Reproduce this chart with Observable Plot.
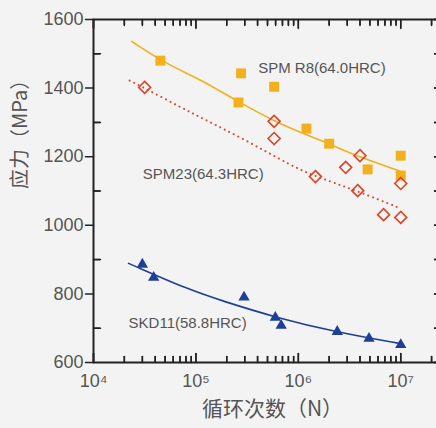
<!DOCTYPE html>
<html><head><meta charset="utf-8">
<script src="https://cdn.jsdelivr.net/npm/d3@7"></script>
<script src="https://cdn.jsdelivr.net/npm/@observablehq/plot@0.6"></script>
<style>
html,body{margin:0;padding:0;background:#f3f3f3;overflow:hidden;}
</style></head><body><div id="chart"></div>
<script>
// SPM R8 (64.0HRC)
const r8Cycles = [4.5e4, 2.6e5, 2.76e5, 5.8e5, 1.2e6, 2.0e6, 4.75e6, 1e7, 1e7];
const r8Stress = [1480, 1358, 1443, 1404, 1282, 1238, 1163, 1203, 1145];
const r8FitCycles = [2.36e4, 4.5e4, 7.1e4, 1.12e5, 2.6e5, 5.8e5, 1.34e6, 2.1e6, 4e6, 1e7];
const r8FitStress = [1536, 1482, 1451, 1424, 1360, 1303, 1258, 1235, 1198, 1157];
// SPM23 (64.3HRC)
const spm23Cycles = [3.16e4, 5.8e5, 5.8e5, 1.47e6, 2.9e6, 4e6, 3.8e6, 1e7, 6.8e6, 1e7];
const spm23Stress = [1402, 1303, 1253, 1142, 1169, 1203, 1101, 1122, 1031, 1023];
const spm23FitCycles = [2.25e4, 3.16e4, 7e4, 1.12e5, 3e5, 8.5e5, 1.4e6, 3.7e6, 1e7];
const spm23FitStress = [1422, 1400, 1345, 1314, 1250, 1174, 1145, 1101, 1049];
// SKD11 (58.8HRC)
const skdCycles = [3.0e4, 3.87e4, 2.95e5, 5.96e5, 6.8e5, 2.4e6, 4.9e6, 1e7];
const skdStress = [886, 848, 790, 731, 708, 690, 670, 652];
const skdFitCycles = [2.2e4, 8.9e4, 1.76e5, 6e5, 2.4e6, 1e7];
const skdFitStress = [889, 810, 781, 731, 688, 655];

const seriesLabels = ["SPM R8(64.0HRC)", "SPM23(64.3HRC)", "SKD11(58.8HRC)"];
const labelCycles = [4.05e5, 3.03e4, 2.2e4];
const labelStress = [1457, 1148, 714];

const yMajor = [600, 800, 1000, 1200, 1400, 1600];
const yMinor = [700, 900, 1100, 1300, 1500];
const yAll = [600, 700, 800, 900, 1000, 1100, 1200, 1300, 1400, 1500, 1600];
const xMajor = [1e4, 1e5, 1e6, 1e7];
const xTickLabels = ["10⁴", "10⁵", "10⁶", "10⁷"];
const xMinor = [2e4, 3e4, 4e4, 5e4, 6e4, 7e4, 8e4, 9e4,
                2e5, 3e5, 4e5, 5e5, 6e5, 7e5, 8e5, 9e5,
                2e6, 3e6, 4e6, 5e6, 6e6, 7e6, 8e6, 9e6, 2e7];
const xTitle = "循环次数（N）";
const yTitle = "应力（MPa）";

const zip = (xs, ys) => xs.map((c, i) => ({cycles: c, stress: ys[i]}));
const r8 = zip(r8Cycles, r8Stress), r8Fit = zip(r8FitCycles, r8FitStress);
const spm23 = zip(spm23Cycles, spm23Stress), spm23Fit = zip(spm23FitCycles, spm23FitStress);
const skd = zip(skdCycles, skdStress), skdFit = zip(skdFitCycles, skdFitStress);
const labels = seriesLabels.map((t, i) => ({text: t, cycles: labelCycles[i], stress: labelStress[i]}));

const ORANGE = "#F2B01C", RED = "#D8462C", BLUE = "#1E3F97", INK = "#222", GRAY = "#555";
const CJK = "'Noto Sans CJK SC', 'Noto Sans', sans-serif";

const W = 441, H = 428, ML = 93, MR = 0, MT = 19, MB = 66;
const FW = W - ML - MR, FH = H - MT - MB;

// straight tick stroke for vector marks
const stick = {draw(context, l) { context.moveTo(0, 0); context.lineTo(0, -l); }};
const vt = {shape: stick, anchor: "start", stroke: INK, strokeWidth: 1.5};

const chart = Plot.plot({
  width: W, height: H,
  marginLeft: ML, marginRight: MR, marginTop: MT, marginBottom: MB,
  style: {background: "#f3f3f3", fontFamily: "'Liberation Sans', Arial, sans-serif", maxWidth: "none"},
  x: {type: "log", domain: [1e4, 2.5e7]},
  y: {domain: [600, 1600]},
  marks: [
    Plot.axisX(xMajor, {anchor: "bottom", tickSize: 0, tickPadding: 12, fill: GRAY, fontSize: 18, label: null,
      tickFormat: d => xTickLabels[xMajor.indexOf(d)]}),
    Plot.axisY(yMajor, {anchor: "left", tickSize: 0, tickPadding: 10, fill: GRAY, fontSize: 18, label: null, tickFormat: d => String(d)}),
    Plot.frame({stroke: INK, strokeWidth: 2}),
    Plot.line(r8Fit, {x: "cycles", y: "stress", stroke: ORANGE, strokeWidth: 1.6, curve: "basis"}),
    Plot.line(spm23Fit, {x: "cycles", y: "stress", stroke: RED, strokeWidth: 2, strokeDasharray: "0.1,5", strokeLinecap: "round", curve: "basis"}),
    Plot.line(skdFit, {x: "cycles", y: "stress", stroke: BLUE, strokeWidth: 1.6, curve: "basis"}),
    Plot.dot(r8, {x: "cycles", y: "stress", symbol: "square", r: 5.6, fill: ORANGE, stroke: "none"}),
    Plot.dot(spm23, {x: "cycles", y: "stress", symbol: "diamond2", r: 5.4, fill: "none", stroke: RED, strokeWidth: 1.6}),
    Plot.dot(skd, {x: "cycles", y: "stress", symbol: "triangle", r: 4.2, fill: BLUE, stroke: "none"}),
    Plot.text(labels, {x: "cycles", y: "stress", text: "text", textAnchor: "start", fontSize: 15, fill: GRAY}),
    Plot.text([xTitle], {text: d => d, frameAnchor: "bottom", dx: 5, dy: 53, fontSize: 21, fill: GRAY, fontFamily: CJK}),
    Plot.text([yTitle], {text: d => d, frameAnchor: "left", rotate: -90, dx: -73, dy: -2, fontSize: 20, fill: GRAY, fontFamily: CJK}),
    // ticks as vectors (paths)
    Plot.vector(yMajor, {y: d => d, frameAnchor: "left", rotate: -90, length: 8, ...vt}),
    Plot.vector(yMinor, {y: d => d, frameAnchor: "left", rotate: 90, length: 7, ...vt}),
    Plot.vector(yAll, {y: d => d, frameAnchor: "right", rotate: -90, length: 7, ...vt}),
    Plot.vector(xMajor, {x: d => d, frameAnchor: "bottom", rotate: 0, length: 9, ...vt}),
    Plot.vector(xMinor, {x: d => d, frameAnchor: "bottom", rotate: 0, length: 6, ...vt}),
    Plot.vector(xMajor, {x: d => d, frameAnchor: "top", rotate: 180, length: 9, ...vt}),
    Plot.vector(xMinor, {x: d => d, frameAnchor: "top", rotate: 180, length: 6, ...vt}),
    // same ticks as tick marks (lines)
    Plot.tickY(yMinor, {y: d => d, insetRight: FW - 7, stroke: INK, strokeWidth: 1.5}),
    Plot.tickY(yAll, {y: d => d, insetLeft: FW - 7, stroke: INK, strokeWidth: 1.5}),
    Plot.tickX(xMajor, {x: d => d, insetTop: FH - 9, stroke: INK, strokeWidth: 1.5}),
    Plot.tickX(xMinor, {x: d => d, insetTop: FH - 6, stroke: INK, strokeWidth: 1.5}),
    Plot.tickX(xMajor, {x: d => d, insetBottom: FH - 9, stroke: INK, strokeWidth: 1.5}),
    Plot.tickX(xMinor, {x: d => d, insetBottom: FH - 6, stroke: INK, strokeWidth: 1.5})
  ]
});
document.getElementById("chart").appendChild(chart);
</script>
</body></html>
